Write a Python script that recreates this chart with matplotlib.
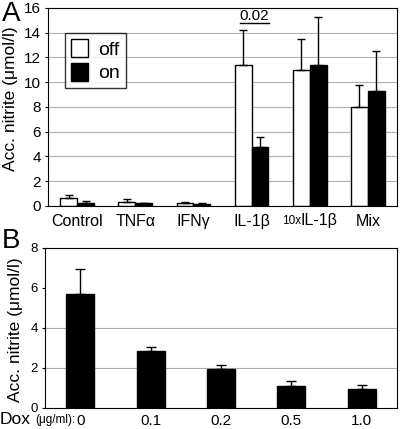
import matplotlib

matplotlib.use("Agg", force=True)
import matplotlib.pyplot as plt
import numpy as np
from matplotlib.patches import Patch

plt.rcParams["font.family"] = ["Liberation Sans", "DejaVu Sans"]

# panel A data
treatments = ["Control", "TNFα", "IFNγ", "IL-1β", "", "Mix"]
off_mean = [0.62, 0.30, 0.20, 11.35, 10.95, 8.0]
off_err = [0.27, 0.27, 0.15, 2.85, 2.55, 1.75]
on_mean = [0.22, 0.20, 0.12, 4.8, 11.35, 9.25]
on_err = [0.18, 0.06, 0.10, 0.8, 3.95, 3.25]

# panel B data
dox_labels = ["0", "0.1", "0.2", "0.5", "1.0"]
dox_mean = [5.72, 2.85, 1.97, 1.12, 0.97]
dox_err = [1.22, 0.22, 0.20, 0.23, 0.20]

fig = plt.figure(figsize=(4.0, 4.29), dpi=100)
ax_a = fig.add_axes([0.12, 0.52, 0.8725, 0.4615])
ax_b = fig.add_axes([0.1125, 0.049, 0.88, 0.373])

x = np.arange(len(treatments))
w = 0.29
ekw = dict(elinewidth=1, capthick=1)
ax_a.bar(x - w / 2, off_mean, w, color="white", edgecolor="black", linewidth=1, zorder=2)
ax_a.bar(x + w / 2, on_mean, w, color="black", edgecolor="black", linewidth=1, zorder=2)
ax_a.errorbar(x - w / 2, off_mean, yerr=[np.zeros(len(x)), off_err], fmt="none",
              ecolor="black", capsize=3, zorder=3, **ekw)
ax_a.errorbar(x + w / 2, on_mean, yerr=[np.zeros(len(x)), on_err], fmt="none",
              ecolor="black", capsize=3, zorder=3, **ekw)
ax_a.set_xlim(-0.5, len(x) - 0.5)
ax_a.set_ylim(0, 16)
ax_a.set_yticks(range(0, 17, 2))
for yv in range(2, 16, 2):
    ax_a.axhline(yv, color="#b0b0b0", linewidth=0.8, zorder=0)
ax_a.set_xticks(x)
ax_a.set_xticklabels(treatments, fontsize=11.5)
ax_a.tick_params(axis="x", length=0, pad=6)
ax_a.tick_params(axis="y", length=2, labelsize=11, pad=3)
ax_a.set_ylabel("Acc. nitrite (μmol/l)", fontsize=12.5)
ax_a.yaxis.set_label_coords(-0.086, 0.54)
# 10xIL-1β label with small prefix
ax_a.text(4 - 0.14, -0.045, "10x", transform=ax_a.get_xaxis_transform(),
          ha="right", va="top", fontsize=8.5)
ax_a.text(4 - 0.16, -0.035, "IL-1β", transform=ax_a.get_xaxis_transform(),
          ha="left", va="top", fontsize=11.5)
ax_a.text(3.05, 14.8, "0.02", ha="center", va="bottom", fontsize=11)
ax_a.plot([2.8, 3.3], [14.75, 14.75], color="black", linewidth=1)
handles = [Patch(facecolor="white", edgecolor="black"),
           Patch(facecolor="black", edgecolor="black")]
ax_a.legend(handles, ["off", "on"], loc="upper left", bbox_to_anchor=(0.049, 0.874),
            borderaxespad=0, fontsize=14, frameon=True, fancybox=False,
            edgecolor="black", handlelength=0.9, handleheight=1.1,
            handletextpad=0.5, borderpad=0.3, labelspacing=0.2)
ax_a.get_legend().get_frame().set_linewidth(1)
fig.text(0.005, 0.997, "A", fontsize=20, ha="left", va="top")

xb = np.arange(len(dox_labels))
ax_b.bar(xb, dox_mean, 0.4, color="black", edgecolor="black", zorder=2)
ax_b.errorbar(xb, dox_mean, yerr=[np.zeros(len(xb)), dox_err], fmt="none",
              ecolor="black", capsize=3.5, zorder=3, **ekw)
ax_b.set_xlim(-0.5, len(xb) - 0.5)
ax_b.set_ylim(0, 8)
ax_b.set_yticks(range(0, 9, 2))
for yv in (2, 4):
    ax_b.axhline(yv, color="#b0b0b0", linewidth=0.8, zorder=0)
ax_b.set_xticks(xb)
ax_b.set_xticklabels(dox_labels, fontsize=11)
ax_b.tick_params(axis="x", length=0, pad=4)
ax_b.tick_params(axis="y", length=2, labelsize=9.5, pad=3)
ax_b.set_ylabel("Acc. nitrite (μmol/l)", fontsize=12.5)
ax_b.yaxis.set_label_coords(-0.0625, 0.49)
fig.text(0.0, 0.021, "Dox", fontsize=12.5, ha="left", va="center")
fig.text(0.19, 0.021, "(μg/ml):", fontsize=8.5, ha="right", va="center")
fig.text(0.005, 0.468, "B", fontsize=20, ha="left", va="top")

fig.savefig("out.png", dpi=100)
plt.close(fig)
